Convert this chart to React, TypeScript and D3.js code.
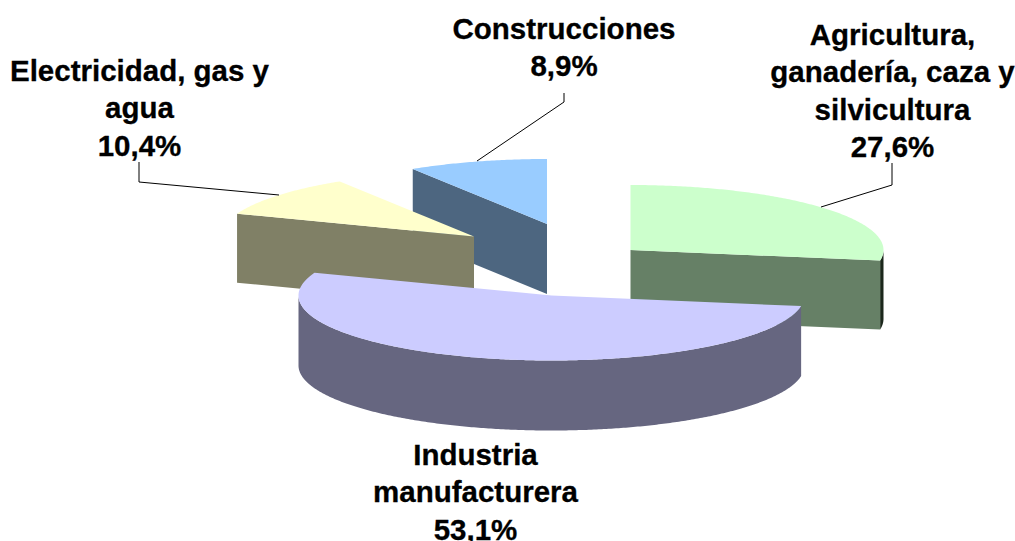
import React from "react";
import * as d3 from "d3";

const sectors = ["Agricultura", "Industria", "Electricidad", "Construcciones"];
const shares = [27.6, 53.1, 10.4, 8.9];
const shareLabels = ["27,6%", "53,1%", "10,4%", "8,9%"];
const labelLines = [
  ["Agricultura,", "ganadería, caza y", "silvicultura"],
  ["Industria", "manufacturera"],
  ["Electricidad, gas y", "agua"],
  ["Construcciones"],
];
const topColors = ["#ccffcc", "#ccccff", "#ffffcc", "#99ccff"];
const sideColors = ["#668066", "#666680", "#808066", "#4d6680"];
const rimColors = ["#1c281c", "#666680", "#808066", "#4d6680"];

const W = 1015, H = 541;
const RX = 253, RY = 65;
const centers: [number, number][] = [[630.5, 250], [551.5, 295.5], [474, 236.5], [547, 224]];
const depths = [69, 70, 69, 70];
const drawOrder = [3, 2, 0, 1];
const labelPos: { x: number; y: number }[] = [
  { x: 892.5, y: 45 }, { x: 475.5, y: 465 }, { x: 139.5, y: 81 }, { x: 564, y: 39 },
];
const leaders: ([number, number][] | null)[] = [
  [[892, 163], [892, 185], [821, 207]],
  null,
  [[139, 162], [139, 182], [279, 195]],
  [[564, 93], [564, 102], [477, 161]],
];

const arcs = d3.pie<number>().sort(null)(shares);
const rx = d3.scaleLinear().domain([0, 1]).range([0, RX]);
const ry = d3.scaleLinear().domain([0, 1]).range([0, RY]);
const line = d3.line<[number, number]>();
const rim = (i: number, a: number, dy = 0): [number, number] => [
  centers[i][0] + rx(Math.sin(a)),
  centers[i][1] - ry(Math.cos(a)) + dy,
];
const sample = (a0: number, a1: number) => {
  const n = Math.max(2, Math.ceil(Math.abs(a1 - a0) / 0.01));
  return d3.range(n + 1).map((k) => a0 + ((a1 - a0) * k) / n);
};
const topPath = (i: number) => {
  const { startAngle: s, endAngle: e } = arcs[i];
  return line([centers[i], ...sample(s, e).map((a) => rim(i, a))]) + "Z";
};
const faces = (i: number) => {
  const { startAngle: s, endAngle: e } = arcs[i];
  const d = depths[i];
  const out: { d: string; fill: string }[] = [];
  const lo = Math.max(s, Math.PI / 2), hi = Math.min(e, (3 * Math.PI) / 2);
  if (hi > lo) {
    const t = sample(lo, hi);
    out.push({
      d: line([...t.map((a) => rim(i, a)), ...t.slice().reverse().map((a) => rim(i, a, d))]) + "Z",
      fill: rimColors[i],
    });
  }
  const c = centers[i];
  const cut = (a: number) => {
    const p = rim(i, a);
    out.push({
      d: line([c, p, [p[0], p[1] + d], [c[0], c[1] + d]]) + "Z",
      fill: sideColors[i],
    });
  };
  if (s > Math.PI && s < 2 * Math.PI) cut(s);
  if (e > 0 && e < Math.PI) cut(e);
  return out;
};

const FONT = "'Liberation Sans', Arial, sans-serif";

export default function App() {
  return (
    <svg width={W} height={H} style={{ position: "absolute", left: 0, top: 0, background: "#fff" }}>
      {drawOrder.map((i) => (
        <g key={sectors[i]}>
          {faces(i).map((f, k) => (
            <path key={k} d={f.d} fill={f.fill} />
          ))}
          <path d={topPath(i)} fill={topColors[i]} />
        </g>
      ))}
      {leaders.map((l, i) =>
        l ? <path key={i} d={line(l)!} fill="none" stroke="#000" strokeWidth={1} /> : null
      )}
      {sectors.map((s, i) => (
        <text key={s} textAnchor="middle" fontFamily={FONT} fontWeight="bold" fontSize={29.5} fill="#000" stroke="#000" strokeWidth={0.3}>
          {[...labelLines[i], shareLabels[i]].map((t, k) => (
            <tspan key={k} x={labelPos[i].x} y={labelPos[i].y + k * 37.3}>
              {t}
            </tspan>
          ))}
        </text>
      ))}
    </svg>
  );
}
